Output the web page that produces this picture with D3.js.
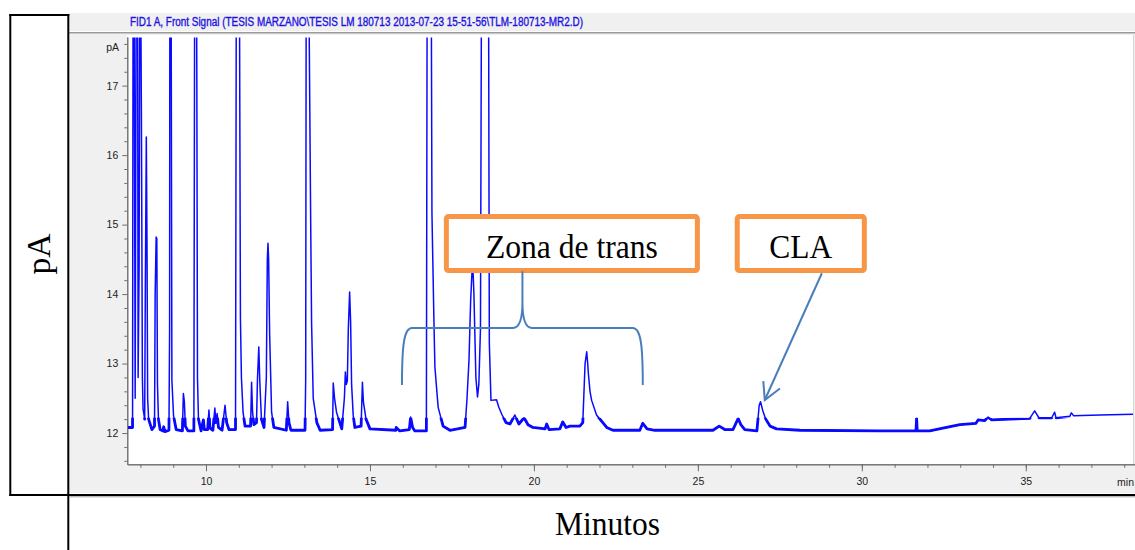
<!DOCTYPE html>
<html><head><meta charset="utf-8">
<script src="https://cdn.jsdelivr.net/npm/d3@7/dist/d3.min.js"></script>
<style>
html,body{margin:0;padding:0;background:#fff;}
svg{display:block;}
</style></head><body>
<svg id="c" width="1135" height="550"></svg>
<script>
// ---------- data ----------
const chartTitle = "FID1 A, Front Signal (TESIS MARZANO\\TESIS LM 180713 2013-07-23 15-51-56\\TLM-180713-MR2.D)";
const yAxisTitle = "pA";
const xAxisTitle = "Minutos";
const xUnit = "min";
const yUnit = "pA";

const xMajorTicks = [10, 15, 20, 25, 30, 35];
const xMajorLabels = ["10", "15", "20", "25", "30", "35"];
const xMinorTicks = [8,9,10,11,12,13,14,15,16,17,18,19,20,21,22,23,24,25,26,27,28,29,30,31,32,33,34,35,36,37,38];
const yMajorTicks = [12, 13, 14, 15, 16, 17];
const yMajorLabels = ["12", "13", "14", "15", "16", "17"];
const yMinorTicks = [11.6,11.8,12.2,12.4,12.6,12.8,13.2,13.4,13.6,13.8,14.2,14.4,14.6,14.8,15.2,15.4,15.6,15.8,16.2,16.4,16.6,16.8,17.2,17.4,17.6];

// retention time (min) and detector signal (pA)
const time = [
  7.62,7.76,7.78,7.80,7.84,7.88,7.91,7.93,7.96,7.99,8.03,8.06,8.08,8.13,8.15,8.18,8.20,8.22,8.25,8.35,
  8.43,8.45,8.48,8.50,8.52,8.55,8.60,8.69,8.71,8.75,8.87,8.89,8.90,8.93,8.96,9.01,9.09,9.28,9.31,9.34,
  9.37,9.45,9.63,9.66,9.70,9.72,9.74,9.77,9.85,9.92,9.95,10.05,10.09,10.12,10.21,10.27,10.30,10.34,10.38,10.49,
  10.58,10.63,10.70,10.90,10.93,11.01,11.05,11.08,11.13,11.19,11.36,11.39,11.42,11.46,11.54,11.57,11.61,11.64,11.69,11.77,
  11.84,11.87,11.89,11.91,11.94,12.00,12.07,12.45,12.49,12.53,12.59,13.02,13.04,13.06,13.11,13.19,13.22,13.27,13.38,13.48,
  13.86,13.88,13.92,13.98,14.14,14.22,14.25,14.28,14.31,14.34,14.38,14.41,14.44,14.49,14.54,14.73,14.77,14.80,14.88,15.00,
  15.79,15.80,15.91,16.20,16.24,16.30,16.37,16.72,16.75,16.86,16.89,16.95,16.98,17.08,17.23,17.44,17.90,17.96,18.02,18.07,
  18.13,18.17,18.23,18.28,18.32,18.37,18.41,18.61,18.64,18.69,18.86,18.93,19.02,19.15,19.27,19.42,19.54,19.70,19.82,19.97,
  20.34,20.39,20.46,20.79,20.88,20.98,21.10,21.40,21.49,21.56,21.61,21.64,21.66,21.71,21.76,21.91,22.22,22.41,23.23,23.32,
  23.45,23.69,25.46,25.65,25.82,26.07,26.23,26.31,26.43,26.80,26.87,26.91,26.98,27.07,27.20,27.40,28.11,30.55,31.65,31.67,
  31.69,32.07,32.47,32.99,33.48,33.55,33.75,33.85,33.96,34.51,35.12,35.27,35.40,35.79,35.88,35.92,36.34,36.39,36.46,37.26,
  38.27
];
const signal = [
  12.08,12.08,20,20,12.5,20,20,12.8,14.4,20,16.6,12.8,12.35,12.2,14.1,16.26,14.8,12.5,12.2,12.05,
  12.1,14.0,14.82,14.8,12.7,12.2,12.05,12.03,12.09,12.02,12.04,13.48,20,20,12.76,12.25,12.05,12.03,12.57,12.45,
  12.1,12.03,12.03,20,20,17.15,12.8,12.2,12.03,12.19,12.05,12.05,12.33,12.07,12.04,12.36,12.15,12.28,12.08,12.04,
  12.40,12.15,12.05,12.05,20,20,13.65,12.8,12.3,12.1,12.1,12.73,12.3,12.12,12.15,12.78,13.24,12.75,12.2,12.08,
  12.8,14.5,14.73,14.5,13.44,12.3,12.08,12.04,12.45,12.15,12.04,12.04,12.78,20,20,15.17,13.58,12.5,12.15,12.04,
  12.05,12.72,12.5,12.3,12.06,12.5,12.88,12.7,12.75,13.5,14.03,13.6,12.7,12.25,12.08,12.1,12.73,12.45,12.2,12.06,
  12.04,12.08,12.03,12.05,12.23,12.08,12.03,12.03,20,20,15.17,13.63,12.95,12.37,12.1,12.04,12.08,12.5,13.05,13.9,
  14.5,14.0,12.8,12.52,12.7,13.5,20,20,13.3,12.47,12.48,12.37,12.27,12.15,12.13,12.26,12.13,12.22,12.12,12.08,
  12.06,12.13,12.05,12.06,12.16,12.08,12.1,12.1,12.15,13.0,13.17,13.0,12.86,12.6,12.47,12.26,12.08,12.04,12.04,12.14,
  12.06,12.04,12.04,12.10,12.05,12.05,12.21,12.12,12.05,12.03,12.4,12.45,12.32,12.2,12.1,12.06,12.04,12.03,12.03,12.21,
  12.03,12.03,12.07,12.12,12.14,12.19,12.18,12.23,12.19,12.2,12.21,12.32,12.22,12.22,12.3,12.22,12.24,12.29,12.25,12.26,
  12.27
];

// annotations (in chart units: minutes / pA)
const boxLabels = ["Zona de trans", "CLA"];
const boxStart = [17.33, 26.20];
const boxEnd = [24.985, 30.076];
const boxTop = [15.115, 15.115];
const boxBottom = [14.338, 14.338];
const braceSpan = [15.976, 19.65, 23.32];   // left end, tip, right end (min)
const braceLevels = [12.69, 13.511, 14.33];  // ends, bar, tip (pA)
const arrowFrom = [28.78, 14.30];
const arrowTo = [27.04, 12.475];

// ---------- drawing ----------
const svg = d3.select("#c");
const W = 1135, H = 550;
const sans = "'Liberation Sans', Arial, sans-serif";
const serif = "'Liberation Serif', 'Times New Roman', serif";

const x = d3.scaleLinear().domain([7.6, 38.33]).range([127.3, 1135]);
const y = d3.scaleLinear().domain([11.55, 17.70]).range([464.3, 37]);

// image background
svg.append("rect").attr("x", 68).attr("y", 13).attr("width", W - 68).attr("height", 480).attr("fill", "#f0f0f0");
svg.append("rect").attr("x", 68).attr("y", 31).attr("width", W - 68).attr("height", 1).attr("fill", "#ffffff");
svg.append("line").attr("x1", 68).attr("x2", W).attr("y1", 32.5).attr("y2", 32.5).attr("stroke", "#9a9a9a").attr("stroke-width", 1);
svg.append("line").attr("x1", 68).attr("x2", W).attr("y1", 33.5).attr("y2", 33.5).attr("stroke", "#c8c8c8").attr("stroke-width", 1);
svg.append("rect").attr("x", x.range()[0]).attr("y", 35).attr("width", 1133.5 - x.range()[0]).attr("height", y.range()[0] - 35).attr("fill", "#ffffff");
svg.append("line").attr("x1", 1133.5).attr("x2", 1133.5).attr("y1", 35).attr("y2", y.range()[0]).attr("stroke", "#d6d6d6");

// title
svg.append("text").attr("x", 130).attr("y", 26)
  .attr("font-family", sans).attr("font-size", 12).attr("fill", "#1212e6")
  .attr("stroke", "#2a10e0").attr("stroke-width", 0.35)
  .attr("textLength", 453).attr("lengthAdjust", "spacingAndGlyphs")
  .text(chartTitle);

// axes
const axisColor = "#6e6e6e";
svg.append("g").attr("transform", `translate(0,${y.range()[0]})`).attr("color", axisColor)
  .call(d3.axisBottom(x).tickValues(xMinorTicks).tickSize(3.5).tickSizeOuter(0).tickFormat(""));
const gx = svg.append("g").attr("transform", `translate(0,${y.range()[0]})`).attr("color", axisColor)
  .call(d3.axisBottom(x).tickValues(xMajorTicks).tickSize(7).tickSizeOuter(0).tickPadding(6)
    .tickFormat((d, i) => xMajorLabels[i]));
gx.selectAll("text").attr("font-family", sans).attr("font-size", 10.5).attr("fill", "#222");
svg.append("text").attr("x", 1134).attr("y", 485.5).attr("text-anchor", "end")
  .attr("font-family", sans).attr("font-size", 10.5).attr("fill", "#222").text(xUnit);

svg.append("g").attr("transform", `translate(${x.range()[0]},0)`).attr("color", axisColor)
  .call(d3.axisLeft(y).tickValues(yMinorTicks).tickSize(3).tickSizeOuter(0).tickFormat(""));
const gy = svg.append("g").attr("transform", `translate(${x.range()[0]},0)`).attr("color", axisColor)
  .call(d3.axisLeft(y).tickValues(yMajorTicks).tickSize(5).tickSizeOuter(0).tickPadding(4)
    .tickFormat((d, i) => yMajorLabels[i]));
gy.selectAll("text").attr("font-family", sans).attr("font-size", 10.5).attr("fill", "#222");
svg.append("text").attr("x", 119).attr("y", 51).attr("text-anchor", "end")
  .attr("font-family", sans).attr("font-size", 10.5).attr("fill", "#222").text(yUnit);

// trace
const defs = svg.append("defs");
defs.append("clipPath").attr("id", "plotclip").append("rect")
  .attr("x", x.range()[0] + 0.5).attr("y", 37.5).attr("width", 1133 - x.range()[0]).attr("height", y.range()[0] - 38);
// band near the baseline where the detector noise thickens the trace
defs.append("clipPath").attr("id", "noiseclip").append("rect")
  .attr("x", x.range()[0] + 0.5).attr("y", y(12.22)).attr("width", 1133 - x.range()[0]).attr("height", y(11.9) - y(12.22));
const pts = d3.zip(time, signal);
const lineGen = d3.line().x(d => x(d[0])).y(d => y(d[1]));
svg.append("path").datum(pts).attr("clip-path", "url(#noiseclip)")
  .attr("fill", "none").attr("stroke", "#0a0aff").attr("stroke-width", 2.8).attr("stroke-linejoin", "round")
  .attr("d", lineGen);
svg.append("path").datum(pts).attr("clip-path", "url(#plotclip)")
  .attr("fill", "none").attr("stroke", "#0a0aff").attr("stroke-width", 1.5).attr("stroke-linejoin", "round")
  .attr("d", lineGen);

// annotation boxes
const orange = "#f79646";
boxLabels.forEach((lab, i) => {
  const x0 = x(boxStart[i]), x1 = x(boxEnd[i]), y0 = y(boxTop[i]), y1 = y(boxBottom[i]);
  svg.append("rect").attr("x", x0).attr("y", y0).attr("width", x1 - x0).attr("height", y1 - y0)
    .attr("rx", 2).attr("fill", "#fff").attr("stroke", orange).attr("stroke-width", 5);
  svg.append("text").attr("x", (x0 + x1) / 2).attr("y", (y0 + y1) / 2 + 14.5).attr("text-anchor", "middle")
    .attr("font-family", serif).attr("font-size", 33).attr("fill", "#000")
    .attr("textLength", i === 0 ? 172 : 63).attr("lengthAdjust", "spacingAndGlyphs")
    .text(lab);
});

// brace
const blue2 = "#4a7ebb";
const bl = x(braceSpan[0]), bc = x(braceSpan[1]), br = x(braceSpan[2]);
const yb = y(braceLevels[0]), ym = y(braceLevels[1]), yt = y(braceLevels[2]);
const bp = d3.path();
bp.moveTo(bl, yb);
bp.bezierCurveTo(bl, ym + 17, bl + 2, ym, bl + 10, ym);
bp.lineTo(bc - 9.5, ym);
bp.bezierCurveTo(bc - 3.5, ym, bc, ym - 8, bc, ym - 26);
bp.lineTo(bc, yt);
bp.moveTo(bc, ym - 26);
bp.bezierCurveTo(bc, ym - 8, bc + 3.5, ym, bc + 9.5, ym);
bp.lineTo(br - 10, ym);
bp.bezierCurveTo(br - 2, ym, br, ym + 17, br, yb);
svg.append("path").attr("d", bp.toString()).attr("fill", "none").attr("stroke", blue2).attr("stroke-width", 2);

// arrow
const ax0 = x(arrowFrom[0]), ay0 = y(arrowFrom[1]), ax1 = x(arrowTo[0]), ay1 = y(arrowTo[1]);
svg.append("line").attr("x1", ax0).attr("y1", ay0).attr("x2", ax1).attr("y2", ay1)
  .attr("stroke", blue2).attr("stroke-width", 2);
const ang = Math.atan2(ay0 - ay1, ax0 - ax1);
const headLen = 19, spread = 0.5;
const ah = d3.path();
ah.moveTo(ax1 + headLen * Math.cos(ang - spread), ay1 + headLen * Math.sin(ang - spread));
ah.lineTo(ax1, ay1);
ah.lineTo(ax1 + headLen * Math.cos(ang + spread), ay1 + headLen * Math.sin(ang + spread));
svg.append("path").attr("d", ah.toString()).attr("fill", "none").attr("stroke", blue2).attr("stroke-width", 2);

// outer table frame
const frame = svg.append("g").attr("stroke", "#000").attr("stroke-width", 2);
frame.append("line").attr("x1", 10.3).attr("x2", 10.3).attr("y1", 14).attr("y2", 496);
frame.append("line").attr("x1", 9.3).attr("x2", 69.3).attr("y1", 15).attr("y2", 15);
frame.append("line").attr("x1", 68.3).attr("x2", 68.3).attr("y1", 14).attr("y2", 550);
frame.append("line").attr("x1", 9.3).attr("x2", W).attr("y1", 495).attr("y2", 495);
svg.append("line").attr("x1", 69.3).attr("x2", W).attr("y1", 496.8).attr("y2", 496.8).attr("stroke", "#9a9a9a").attr("stroke-width", 1);

// table titles
svg.append("text").attr("transform", "translate(50,254) rotate(-90)").attr("text-anchor", "middle")
  .attr("font-family", serif).attr("font-size", 33).attr("fill", "#000")
  .attr("textLength", 41).attr("lengthAdjust", "spacingAndGlyphs").text(yAxisTitle);
svg.append("text").attr("x", 607.5).attr("y", 535).attr("text-anchor", "middle")
  .attr("font-family", serif).attr("font-size", 33).attr("fill", "#000")
  .attr("textLength", 105).attr("lengthAdjust", "spacingAndGlyphs").text(xAxisTitle);
</script>
</body></html>
